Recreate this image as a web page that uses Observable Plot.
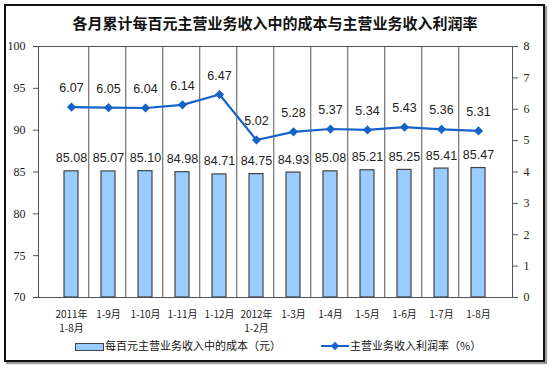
<!DOCTYPE html>
<html><head><meta charset="utf-8">
<script src="https://cdn.jsdelivr.net/npm/d3@7"></script>
<script src="https://cdn.jsdelivr.net/npm/@observablehq/plot@0.6"></script>
<style>
body{margin:0;background:#fff;font-family:"Noto Sans CJK SC",sans-serif;}
#wrap{position:relative;width:550px;height:368px;overflow:hidden;}
#frame{position:absolute;left:4px;top:4px;width:537px;height:354px;border:2px solid #111;box-shadow:2px 2px 1px #999;}
#title{position:absolute;left:0;top:12px;width:550px;text-align:center;font-size:15px;font-weight:bold;color:#111;}
#legend{position:absolute;top:337px;left:0;width:550px;font-size:11px;color:#111;}
#legend span{position:absolute;white-space:nowrap;}
#chart{position:absolute;left:0;top:0;}
</style></head>
<body><div id="wrap"><div id="frame"></div><div id="chart"></div>
<div id="title">各月累计每百元主营业务收入中的成本与主营业务收入利润率</div>
<div id="legend">
<span style="left:75px;top:6px;width:27px;height:6px;background:#99CCFF;border:1px solid #444;"></span>
<span style="left:105px;top:0px;">每百元主营业务收入中的成本（元）</span>
<span style="left:321px;top:8px;width:28px;height:2px;background:#1563C8;"></span>
<span style="left:332px;top:6px;width:6px;height:6px;background:#1563C8;transform:rotate(45deg);"></span>
<span style="left:350px;top:0px;">主营业务收入利润率（%）</span>
</div>
</div>
<script>
const categories = ["2011年\n1-8月","1-9月","1-10月","1-11月","1-12月","2012年\n1-2月","1-3月","1-4月","1-5月","1-6月","1-7月","1-8月"];
const costValues = [85.08,85.07,85.10,84.98,84.71,84.75,84.93,85.08,85.21,85.25,85.41,85.47];
const profitValues = [6.07,6.05,6.04,6.14,6.47,5.02,5.28,5.37,5.34,5.43,5.36,5.31];
const leftTicks = [70,75,80,85,90,95,100];
const rightTicks = [0,1,2,3,4,5,6,7,8];

const yMin = 70, yMax = 100, rMax = 8;
const toLeft = v => yMin + v * (yMax - yMin) / rMax;
const data = categories.map((c,i)=>({cat:c, cost:costValues[i], profit:profitValues[i], pl: toLeft(profitValues[i])}));

const W = 550, H = 368, mL = 38, mR = 38, mT = 46, mB = 71;
const step = (W - mL - mR) / categories.length;
const blue = "#1563C8";

const chart = Plot.plot({
  width: W, height: H,
  marginLeft: mL, marginRight: mR, marginTop: mT, marginBottom: mB,
  style: {background: "transparent", overflow: "visible"},
  x: {domain: categories, padding: 0.62, label: null, axis: null},
  y: {domain: [yMin, yMax], label: null, axis: null},
  marks: [
    Plot.frame({stroke: "#555", strokeWidth: 1}),
    Plot.axisY({anchor: "left", ticks: leftTicks, tickSize: 5, tickPadding: 8, label: null,
      fontFamily: "Liberation Serif", fontSize: 12, stroke: "#555", color: "#222"}),
    Plot.axisY({anchor: "right", ticks: rightTicks.map(toLeft), tickFormat: (d)=> String(Math.round((d - yMin) * rMax / (yMax - yMin))),
      tickSize: 5, tickPadding: 6, label: null, fontFamily: "Liberation Serif", fontSize: 12, stroke: "#555", color: "#222"}),
    Plot.barY(data, {x: "cat", y1: yMin, y2: "cost", fill: "#99CCFF", stroke: "#444", strokeWidth: 1.2}),
    Plot.tickX(categories.slice(1), {x: d=>d, y1: yMin, y2: yMin + 0.45, dx: -step/2, stroke: "#555"}),
    Plot.text(data, {x: "cat", y: "cost", text: d => d.cost.toFixed(2), dy: -13, fontFamily: "Liberation Sans", fontSize: 12.5, fill: "#222"}),
    Plot.line(data, {x: "cat", y: "pl", stroke: blue, strokeWidth: 2.2}),
    Plot.dot(data, {x: "cat", y: "pl", symbol: "diamond2", r: 3.2, fill: blue, stroke: blue}),
    Plot.text(data, {x: "cat", y: "pl", text: d => d.profit.toFixed(2), dy: -19, fontFamily: "Liberation Sans", fontSize: 12.5, fill: "#222"}),
    Plot.axisX({anchor: "bottom", tickSize: 0, tickPadding: 10, label: null, fontFamily: "Noto Sans CJK SC", fontSize: 10, color: "#222", lineHeight: 1.45})
  ]
});
document.getElementById("chart").appendChild(chart);
</script></body></html>
